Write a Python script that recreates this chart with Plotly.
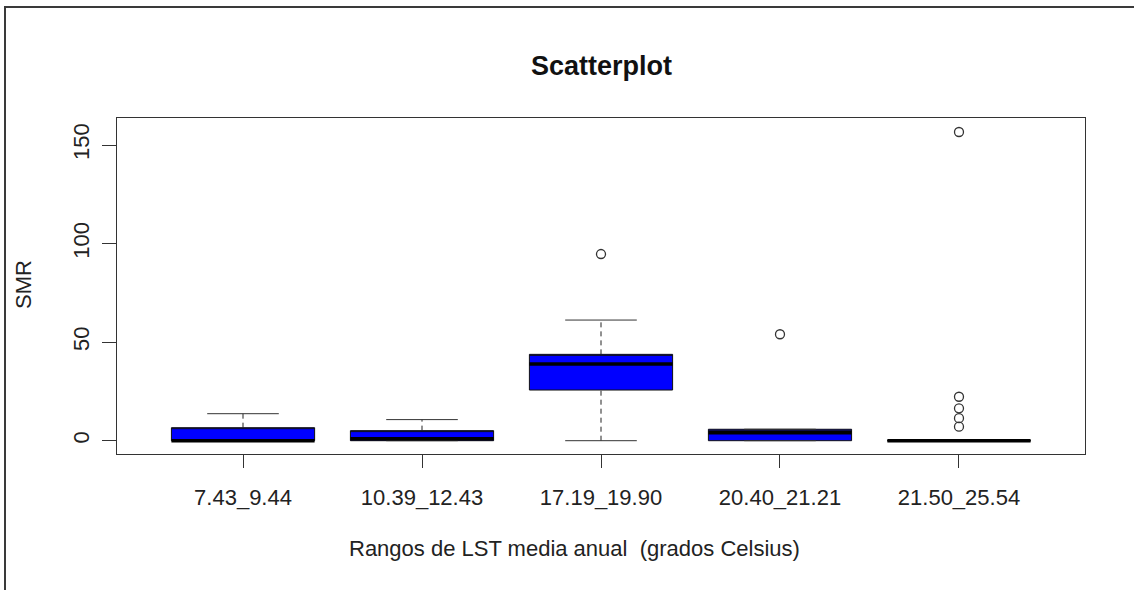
import plotly.graph_objects as go

# ---------------- data ----------------
categories = ["7.43_9.44", "10.39_12.43", "17.19_19.90", "20.40_21.21", "21.50_25.54"]
lower_whisker = [0, 0, 0, 0, 0]
q1 = [0, 0, 25.7, 0, 0]
median = [0, 1, 38.9, 4, 0]
q3 = [6.6, 5.1, 43.8, 5.8, 0]
upper_whisker = [13.7, 10.7, 61.2, 5.8, 0]
outlier_cat = [2, 3, 4, 4, 4, 4, 4]
outlier_val = [94.7, 54, 7.1, 11.4, 16.4, 22.3, 156.6]
y_ticks = [0, 50, 100, 150]

BOX_W = 0.8
CAP_W = 0.4
FONT = "Liberation Sans, Arial, sans-serif"
pos = list(range(len(categories)))

fig = go.Figure()

# boxes (fill + border)
fig.add_trace(go.Box(
    x=pos, q1=q1, median=q3, q3=q3, lowerfence=q1, upperfence=q3,
    width=BOX_W, fillcolor="#0000FF", line=dict(color="#111111", width=1),
    whiskerwidth=0, hoverinfo="skip", showlegend=False,
))

def seg(xs0, xs1, ys0, ys1):
    X, Y = [], []
    for a, b, c, d in zip(xs0, xs1, ys0, ys1):
        X += [a, b, None]
        Y += [c, d, None]
    return X, Y

# dashed whiskers
wx, wy = seg(pos + pos, pos + pos, q3 + lower_whisker, upper_whisker + q1)
fig.add_trace(go.Scatter(x=wx, y=wy, mode="lines",
                         line=dict(color="#222222", width=1, dash="5px,4px"),
                         hoverinfo="skip", showlegend=False))

# caps
cx, cy = seg([p - CAP_W / 2 for p in pos] * 2, [p + CAP_W / 2 for p in pos] * 2,
             upper_whisker + lower_whisker, upper_whisker + lower_whisker)
fig.add_trace(go.Scatter(x=cx, y=cy, mode="lines",
                         line=dict(color="#333333", width=1),
                         hoverinfo="skip", showlegend=False))

# medians
mx, my = seg([p - BOX_W / 2 for p in pos], [p + BOX_W / 2 for p in pos], median, median)
fig.add_trace(go.Scatter(x=mx, y=my, mode="lines",
                         line=dict(color="#000000", width=3.5),
                         hoverinfo="skip", showlegend=False))

# outliers
fig.add_trace(go.Scatter(x=outlier_cat, y=outlier_val, mode="markers",
                         marker=dict(symbol="circle-open", size=9, color="#333333",
                                     line=dict(width=1.3, color="#333333")),
                         hoverinfo="skip", showlegend=False))

L, R, T, B = 117, 1134 - 1085, 118, 590 - 454
PW, PH = 1085 - L, 454 - T

def px_x(v):
    return (v - L) / PW

def px_y(v):
    return (454 - v) / PH

fig.update_layout(
    width=1134, height=590,
    margin=dict(l=L, r=R, t=T, b=B),
    paper_bgcolor="white", plot_bgcolor="white",
    font=dict(family=FONT, size=22, color="#222222"),
    showlegend=False,
    xaxis=dict(range=[-0.704, 4.704], tickmode="array", tickvals=pos, ticktext=categories,
               showgrid=False, zeroline=False, showline=True, mirror=True,
               linecolor="#333333", linewidth=1, ticks="outside", ticklen=13,
               tickcolor="#333333", tickfont=dict(size=22, color="#222222"),
               ticklabelstandoff=11),
    yaxis=dict(range=[-6.75, 163.7], tickmode="array", tickvals=y_ticks,
               showgrid=False, zeroline=False, showline=True, mirror=True,
               linecolor="#333333", linewidth=1, ticks="outside", ticklen=14,
               tickcolor="#333333", tickangle=-90, tickfont=dict(size=22, color="#222222"),
               ticklabelstandoff=4),
    annotations=[
        dict(text="<b>Scatterplot</b>", x=0.5, y=px_y(66), xref="paper", yref="paper",
             xanchor="center", yanchor="middle",
             showarrow=False, font=dict(size=27, color="#111111")),
        dict(text="Rangos de LST media anual  (grados Celsius)", x=px_x(574),
             y=px_y(548), xref="paper", yref="paper", showarrow=False,
             xanchor="center", yanchor="middle",
             font=dict(size=22, color="#222222")),
        dict(text="SMR", x=px_x(23), y=px_y(285), xref="paper",
             yref="paper", showarrow=False, textangle=-90,
             xanchor="center", yanchor="middle",
             font=dict(size=22, color="#222222")),
    ],
    shapes=[
        dict(type="rect", xref="paper", yref="paper",
             x0=px_x(5), y0=-1.0, x1=1.5, y1=px_y(7),
             line=dict(color="#3a3a3a", width=2), fillcolor="rgba(0,0,0,0)", layer="below"),
    ],
)

fig.write_html("out.html")
